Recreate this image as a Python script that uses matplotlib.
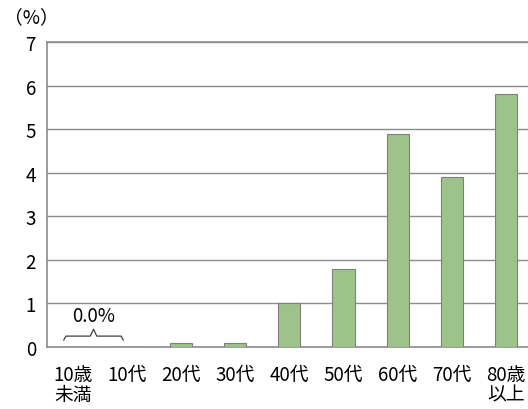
import numpy as np
import matplotlib
matplotlib.use('Agg')
from matplotlib import pyplot as plt

plt.rcParams['font.family'] = ['Noto Sans CJK JP', 'DejaVu Sans']

categories = ['10歳\n未満', '10代', '20代', '30代', '40代', '50代', '60代', '70代', '80歳\n以上']
values = [0.0, 0.0, 0.1, 0.1, 1.0, 1.8, 4.9, 3.9, 5.8]
yticks = [0, 1, 2, 3, 4, 5, 6, 7]

fig = plt.figure(figsize=(5.28, 4.10), dpi=100)
ax = fig.add_axes([47/528, 62/410, 1 - 47/528, 305/410])

x = np.arange(len(categories))
ax.bar(x, values, width=0.41, color='#9dc38a', edgecolor='#7f7f7f', linewidth=0.8, zorder=3)

ax.set_xlim(-0.48, 8.41)
ax.set_ylim(0, 7)
ax.set_yticks(yticks)
ax.yaxis.grid(True, color='#8c8c8c', linewidth=1.0, zorder=0)
ax.tick_params(axis='y', length=0, pad=8, labelsize=13.5)
ax.tick_params(axis='x', length=0, pad=12, labelsize=13.5)
ax.set_xticks(x)
ax.set_xticklabels(categories, va='top', linespacing=0.95)
for s in ['left', 'top', 'bottom']:
    ax.spines[s].set_color('#8c8c8c')
    ax.spines[s].set_linewidth(1.2)
ax.spines['right'].set_visible(False)

# brace over the first two categories
x0, x1 = x[0] - 0.17, x[1] - 0.07
xm = (x0 + x1) / 2
yb, yl, yt = 0.16, 0.25, 0.41
bx = [x0, x0 + 0.04, xm - 0.06, xm, xm + 0.06, x1 - 0.04, x1]
by = [yb, yl, yl, yt, yl, yl, yb]
ax.plot(bx, by, color='#404040', linewidth=0.9, zorder=4)
ax.text(xm, 0.72, '0.0%', ha='center', va='center', fontsize=13.5, zorder=4)

fig.text(4/528, 1 - 18/410, '（%）', ha='left', va='center', fontsize=13.5)

fig.savefig('out.png', dpi=100)
